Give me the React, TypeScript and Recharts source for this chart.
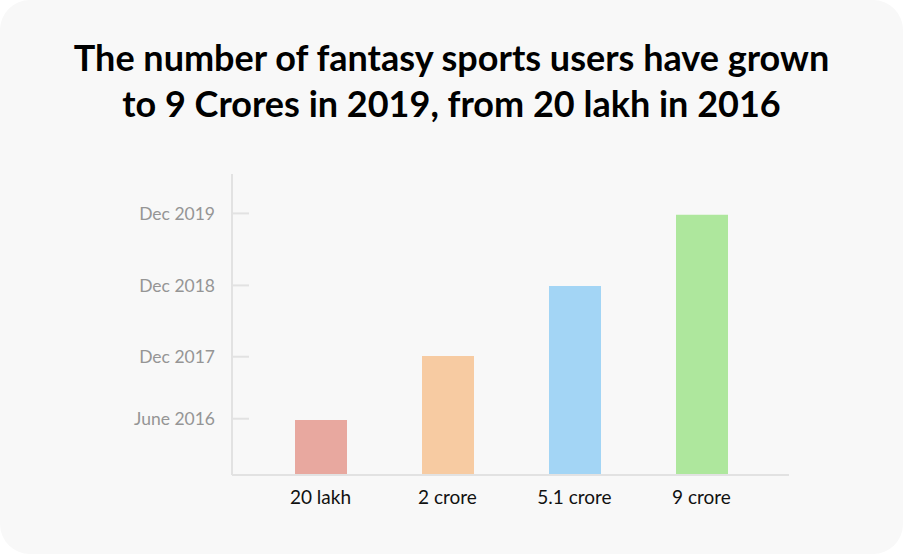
import { BarChart, Bar, XAxis, YAxis, Cell } from "recharts";

const categories = ["20 lakh", "2 crore", "5.1 crore", "9 crore"];
const levels = [18.3, 39.5, 62.8, 86.5];
const barColors = ["#e8a89f", "#f7cba2", "#a3d5f5", "#aee79d"];
const yTicks = [18.7, 39.3, 63, 86.9];
const yTickLabels = ["June 2016", "Dec 2017", "Dec 2018", "Dec 2019"];

const data = categories.map((name, i) => ({ name, level: levels[i] }));

const font = "Lato, 'Noto Sans', sans-serif";

function DateTick({ x, y, payload }: { x?: number; y?: number; payload?: { value: number } }) {
  const i = yTicks.indexOf(payload?.value ?? -1);
  return (
    <g>
      <line x1={(x ?? 0) + 17} x2={(x ?? 0) + 34} y1={y} y2={y} stroke="#e2e2e2" strokeWidth={2} />
      <text
        x={x} y={y} textAnchor="end" dominantBaseline="central"
        fill="#959595" fontSize={17.5} fontFamily={font}
      >
        {i >= 0 ? yTickLabels[i] : ""}
      </text>
    </g>
  );
}

export default function App() {
  return (
    <div style={{ position: "absolute", left: 0, top: 0, width: 903, height: 554, background: "#fff" }}>
      <div style={{
        position: "absolute", left: 0, top: 0, width: 903, height: 554,
        background: "#f8f8f8", borderRadius: 30,
      }}>
        <div style={{
          position: "absolute", top: 34, left: 0, width: 903, textAlign: "center",
          fontFamily: font, fontWeight: 700, fontSize: 36, lineHeight: "46px", color: "#000",
        }}>
          The number of fantasy sports users have grown<br />
          to 9 Crores in 2019, from 20 lakh in 2016
        </div>
        <BarChart
          width={903} height={554} data={data}
          margin={{ top: 174, right: 114, left: 0, bottom: 49 }}
          style={{ position: "absolute", left: 0, top: 0 }}
        >
          <XAxis
            dataKey="name" height={30} tickLine={false} tickSize={0} tickMargin={16}
            axisLine={{ stroke: "#e2e2e2", strokeWidth: 2 }}
            padding={{ left: 25, right: 24 }}
            tick={{ fill: "#111", fontSize: 19, fontFamily: font }}
          />
          <YAxis
            type="number" domain={[0, 100]} ticks={yTicks} width={232}
            tickLine={false} tickSize={0} tickMargin={17}
            axisLine={{ stroke: "#e2e2e2", strokeWidth: 2 }}
            tick={<DateTick />}
          />
          <Bar dataKey="level" barSize={52} isAnimationActive={false}>
            {data.map((d, i) => (
              <Cell key={d.name} fill={barColors[i]} />
            ))}
          </Bar>
        </BarChart>
      </div>
    </div>
  );
}
